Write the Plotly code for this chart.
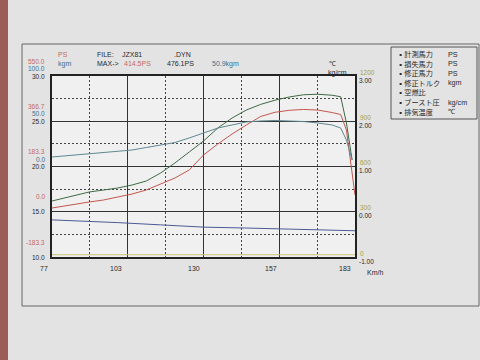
import plotly.graph_objects as go

# ---------------- data ----------------
speed = [77, 85, 90, 95, 100, 105, 110, 115, 120, 125, 130, 135, 140, 145,
         150, 155, 160, 165, 170, 175, 178, 180, 182]
corrected_ps = [43.6, 67.9, 80.0, 88.1, 96.2, 108.4, 124.6, 157.0, 197.5, 242.1,
                286.6, 339.3, 379.8, 412.2, 435.0, 452.0, 465.0, 474.0, 476.1,
                472.0, 466.0, 360.0, 210.0]
torque_kgm = [10.5, 12.7, 14.4, 15.5, 17.1, 18.2, 21.0, 23.8, 26.5, 31.5, 37.0,
              42.5, 45.9, 49.2, 50.3, 50.9, 50.3, 49.7, 48.1, 45.9, 42.5, 29.3, 7.2]
speed_meas = [77, 85, 90, 95, 100, 105, 110, 115, 120, 125, 130, 135, 140, 145,
              150, 155, 160, 165, 170, 175, 178, 180, 182, 183]
measured_ps = [15.2, 31.4, 39.5, 47.6, 59.8, 71.9, 88.1, 112.4, 136.7, 169.2,
               229.9, 274.5, 315.0, 351.5, 386.0, 403.0, 411.0, 414.5, 412.0,
               402.0, 394.0, 331.0, 169.0, 68.0]
speed_af = [77, 90, 100, 115, 130, 145, 157, 170, 183]
air_fuel = [14.1, 13.95, 13.8, 13.55, 13.3, 13.2, 13.1, 13.0, 12.9]
speed_ex = [77, 130, 183]
exhaust_c = [15, 15, 15]

x_ticks = [77, 103, 130, 157, 183]
ps_labels = [550.0, 366.7, 183.3, 0.0, -183.3]
kgm_labels = [100.0, 50.0, 0.0]
af_labels = [30.0, 25.0, 20.0, 15.0, 10.0]
temp_labels = [1200, 900, 600, 300, 0]
boost_labels = [3.00, 2.00, 1.00, 0.00, -1.00]

legend_names = ["計測馬力", "損失馬力", "修正馬力", "修正トルク", "空燃比", "ブースト圧", "排気温度"]
legend_units = ["PS", "PS", "PS", "kgm", "", "kg/cm", "℃"]

# ---------------- layout helpers ----------------
W_FIG, H_FIG = 480, 360
L, T, W, H = 52, 76, 303, 181


def px(x):
    return (x - L) / W


def py(y):
    return (T + H - y) / H


RED = "#c4564e"
RED_T = "#c46a62"
GREEN = "#3f6a48"
TORQ = "#5f8792"
BLUE_T = "#3b7290"
NAVY = "#4c5a94"
OLIVE = "#a8a23e"
INK = "#2a2a2a"
FONT = "Liberation Sans"

fig = go.Figure()
fig.add_trace(go.Scatter(x=speed_ex, y=exhaust_c, yaxis="y4", mode="lines",
                         line=dict(color="#c8c27a", width=1), hoverinfo="skip"))
fig.add_trace(go.Scatter(x=speed_af, y=air_fuel, yaxis="y3", mode="lines",
                         line=dict(color=NAVY, width=1), hoverinfo="skip"))
fig.add_trace(go.Scatter(x=speed, y=torque_kgm, yaxis="y2", mode="lines",
                         line=dict(color=TORQ, width=1), hoverinfo="skip"))
fig.add_trace(go.Scatter(x=speed_meas, y=measured_ps, yaxis="y", mode="lines",
                         line=dict(color=RED, width=1), hoverinfo="skip"))
fig.add_trace(go.Scatter(x=speed, y=corrected_ps, yaxis="y", mode="lines",
                         line=dict(color=GREEN, width=1), hoverinfo="skip"))

hidden = dict(showgrid=False, showticklabels=False, zeroline=False, ticks="")
fig.update_layout(
    width=W_FIG, height=H_FIG, showlegend=False,
    margin=dict(l=L, r=W_FIG - L - W, t=T, b=H_FIG - T - H),
    paper_bgcolor="#e3e3e3", plot_bgcolor="#f0f0f0",
    xaxis=dict(range=[77, 183], tick0=77, dtick=26.5, showticklabels=False,
               ticks="", showgrid=True, gridcolor="#333333", gridwidth=1,
               zeroline=False, showline=True, linecolor="#222222", linewidth=1.5,
               mirror=True,
               minor=dict(tick0=77, dtick=13.25, showgrid=True, gridcolor="#444444",
                          griddash="2px,2px", gridwidth=1, ticks="")),
    yaxis=dict(range=[-183.3, 550.0], **hidden, showline=True, linecolor="#222222",
               linewidth=1.5, mirror=True),
    yaxis2=dict(range=[-100, 100], overlaying="y", **hidden),
    yaxis3=dict(range=[10, 30], overlaying="y", tick0=10, dtick=5,
                showticklabels=False, ticks="", zeroline=False,
                showgrid=True, gridcolor="#333333", gridwidth=1,
                minor=dict(tick0=10, dtick=2.5, showgrid=True, gridcolor="#444444",
                           griddash="2px,2px", gridwidth=1, ticks="")),
    yaxis4=dict(range=[0, 1200], overlaying="y", **hidden),
    yaxis5=dict(range=[-1, 3], overlaying="y", **hidden),
)

ann = []


def text(x, y, s, color=INK, size=7, anchor="left", family=FONT):
    ann.append(dict(x=px(x), y=py(y), xref="paper", yref="paper", text=s,
                    showarrow=False, xanchor=anchor, yanchor="middle",
                    font=dict(family=family, size=size, color=color)))


# left axis labels (stacked per gridline)
for v in ps_labels:
    ann.append(dict(x=px(47), xref="paper", y=v, yref="y", text=f"{v:.1f}",
                    showarrow=False, xanchor="right", yanchor="middle", yshift=15,
                    font=dict(family=FONT, size=6.5, color=RED_T)))
for v in kgm_labels:
    ann.append(dict(x=px(47), xref="paper", y=v, yref="y2", text=f"{v:.1f}",
                    showarrow=False, xanchor="right", yanchor="middle", yshift=7.5,
                    font=dict(family=FONT, size=6.5, color=BLUE_T)))
for v in af_labels:
    ann.append(dict(x=px(47), xref="paper", y=v, yref="y3", text=f"{v:.1f}",
                    showarrow=False, xanchor="right", yanchor="middle", yshift=0,
                    font=dict(family=FONT, size=6.5, color=INK)))
# right axis labels
for v in temp_labels:
    ann.append(dict(x=px(358), xref="paper", y=v, yref="y4", text=f"{v}",
                    showarrow=False, xanchor="left", yanchor="middle", yshift=4,
                    font=dict(family=FONT, size=6.5, color=OLIVE)))
for v in boost_labels:
    ann.append(dict(x=px(357), xref="paper", y=v, yref="y5", text=f"{v:.2f}",
                    showarrow=False, xanchor="left", yanchor="middle", yshift=-4,
                    font=dict(family=FONT, size=6.5, color=INK)))
# x tick labels
for v in x_ticks:
    ann.append(dict(x=v, xref="x", y=py(268), yref="paper", text=f"{v}",
                    showarrow=False, xanchor="right", yanchor="middle", xshift=-2,
                    font=dict(family=FONT, size=7, color=INK)))
text(365, 272, "Km/h", size=7)

# header
text(63, 55, "PS", RED_T, 7, anchor="center")
text(64, 64, "kgm", BLUE_T, 7, anchor="center")
text(95, 55, "FILE:")
text(120, 55, "JZX81")
text(172, 55, ".DYN")
text(95, 64, "MAX->")
text(122, 64, "414.5PS", RED_T)
text(165, 64, "476.1PS")
text(210, 64, "50.9kgm", BLUE_T)
text(327, 64, "℃", size=7)
text(326, 73, "kg/cm", size=7)

# legend box texts
for i, (n, u) in enumerate(zip(legend_names, legend_units)):
    yy = 54 + i * 9.6
    text(395, yy, "▪" + n, INK, 7.2, family="Noto Sans CJK JP")
    if u:
        text(446, yy, u, INK, 7.2)

fig.update_layout(annotations=ann)


def rect(x0, y0, x1, y1, **kw):
    return dict(type="rect", xref="paper", yref="paper", x0=px(x0), x1=px(x1),
                y0=py(y1), y1=py(y0), layer="below", **kw)


fig.update_layout(shapes=[
    rect(0, 0, 8, 360, fillcolor="#9a5e56", line=dict(width=0)),
    rect(22, 44, 479, 306, line=dict(color="#666666", width=1)),
    rect(391, 47, 477, 119, line=dict(color="#555555", width=1)),
])

fig.write_html("out.html")
